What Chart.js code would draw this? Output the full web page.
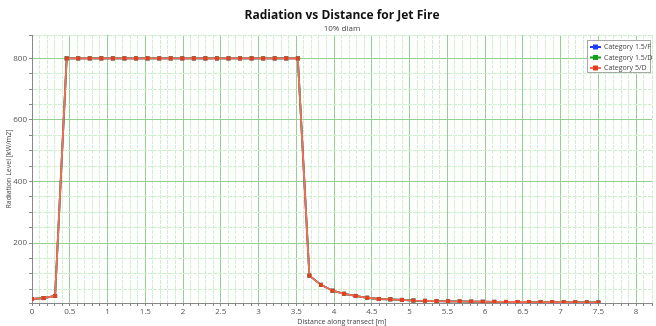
<!DOCTYPE html>
<html>
<head>
<meta charset="utf-8">
<script src="https://cdn.jsdelivr.net/npm/chart.js@4.4.1/dist/chart.umd.min.js"></script>
<style>
    html, body { margin: 0; padding: 0; background: #fff; }
    #wrap { width: 656px; height: 326px; }
</style>
</head>
<body>
<div id="wrap"><canvas id="radChart"></canvas></div>
<script>
// Radiation vs distance - jet fire, 10% diam

const distances = [0, 0.153, 0.306, 0.459, 0.612, 0.765, 0.918, 1.071, 1.224, 1.378,
    1.531, 1.684, 1.837, 1.990, 2.143, 2.296, 2.449, 2.602, 2.755, 2.908,
    3.061, 3.214, 3.367, 3.520, 3.673, 3.827, 3.980, 4.133, 4.286, 4.439,
    4.592, 4.745, 4.898, 5.051, 5.204, 5.357, 5.510, 5.663, 5.816, 5.969,
    6.122, 6.276, 6.429, 6.582, 6.735, 6.888, 7.041, 7.194, 7.347, 7.500];

const radiation = [18, 21, 28, 800, 800, 800, 800, 800, 800, 800,
    800, 800, 800, 800, 800, 800, 800, 800, 800, 800,
    800, 800, 800, 800, 94, 64, 45, 35, 28, 22,
    18, 17, 15, 13, 12, 11, 10.5, 10, 9.5, 9,
    8.8, 8.5, 8.2, 8, 7.8, 7.6, 7.4, 7.2, 7, 6.8];

const seriesNames = ['Category 1.5/F', 'Category 1.5/D', 'Category 5/D'];
const lineColors = ['#1f3dff', '#14a014', '#ff6a58'];
const markerColors = ['#1f3dff', '#14a014', '#e4401f'];

const majorGrid = '#93d193';
const minorGrid = '#cdf0cd';
const fontFamily = "'Open Sans', 'Noto Sans', sans-serif";

function isMultiple(v, step) {
    const r = v / step;
    return Math.abs(r - Math.round(r)) < 1e-6;
}

// boxed legend in the top right corner of the plot
const boxLegend = {
    id: 'boxLegend',
    afterDraw(chart) {
        const ctx = chart.ctx;
        const area = chart.chartArea;
        const w = 64, h = 33;
        const x0 = Math.min(area.right, 655) - w - 1, y0 = area.top + 5;
        ctx.save();
        ctx.fillStyle = '#ffffff';
        ctx.fillRect(x0, y0, w, h);
        ctx.strokeStyle = '#a8a8a8';
        ctx.lineWidth = 1;
        ctx.strokeRect(x0 + 0.5, y0 + 0.5, w - 1, h - 1);
        ctx.font = '7px ' + fontFamily;
        ctx.textBaseline = 'middle';
        chart.data.datasets.forEach((ds, i) => {
            const cy = y0 + 7 + i * 10.5;
            ctx.strokeStyle = lineColors[i];
            ctx.lineWidth = 2;
            ctx.beginPath();
            ctx.moveTo(x0 + 3, cy);
            ctx.lineTo(x0 + 14, cy);
            ctx.stroke();
            ctx.fillStyle = markerColors[i];
            ctx.fillRect(x0 + 6, cy - 2.5, 5, 5);
            ctx.fillStyle = '#444';
            ctx.fillText(ds.label, x0 + 17, cy);
        });
        ctx.restore();
    }
};

const datasets = seriesNames.map((name, i) => ({
    label: name,
    data: distances.map((d, k) => ({ x: d, y: radiation[k] })),
    borderColor: lineColors[i],
    backgroundColor: markerColors[i],
    pointBackgroundColor: markerColors[i],
    pointBorderColor: markerColors[i],
    pointStyle: 'rect',
    pointRadius: 2.8,
    pointBorderWidth: 0,
    borderWidth: 1.8,
    tension: 0,
    order: 3 - i
}));

new Chart(document.getElementById('radChart').getContext('2d'), {
    type: 'line',
    data: { datasets: datasets },
    plugins: [boxLegend],
    options: {
        responsive: true,
        maintainAspectRatio: false,
        animation: false,
        layout: { padding: { top: 0, right: -7, left: 0, bottom: 0 } },
        plugins: {
            title: {
                display: true,
                fullSize: false,
                text: 'Radiation vs Distance for Jet Fire',
                color: '#111',
                font: { family: fontFamily, size: 12, weight: 'bold' },
                padding: { top: 8, bottom: 0 }
            },
            subtitle: {
                display: true,
                fullSize: false,
                text: '10% diam',
                color: '#444',
                font: { family: fontFamily, size: 8 },
                padding: { top: 2, bottom: 1 }
            },
            legend: { display: false },
            tooltip: { enabled: false }
        },
        scales: {
            x: {
                type: 'linear',
                min: 0,
                max: 8.21,
                afterFit(scale) {
                    scale.height = 23;
                    scale.paddingLeft = 0;
                    scale.paddingRight = 0;
                },
                ticks: {
                    stepSize: 0.1,
                    autoSkip: false,
                    maxRotation: 0,
                    color: '#555',
                    padding: 1,
                    font: { family: fontFamily, size: 8 },
                    callback(v) { return isMultiple(v, 0.5) ? String(Math.round(v * 10) / 10) : ''; }
                },
                grid: {
                    color: ctx => (ctx.tick && isMultiple(ctx.tick.value, 0.5)) ? majorGrid : minorGrid,
                    lineWidth: 1,
                    tickLength: 3,
                    tickColor: '#888'
                },
                border: {
                    color: '#888',
                    dash: ctx => (ctx.tick && isMultiple(ctx.tick.value, 0.5)) ? [] : [4, 1]
                },
                title: {
                    display: true,
                    text: 'Distance along transect [m]',
                    color: '#444',
                    font: { family: fontFamily, size: 7 },
                    padding: { top: 0, bottom: 0 }
                }
            },
            y: {
                type: 'linear',
                min: 5,
                max: 876,
                afterFit(scale) { scale.width = 32; },
                ticks: {
                    stepSize: 50,
                    autoSkip: false,
                    color: '#555',
                    padding: 2,
                    font: { family: fontFamily, size: 8 },
                    callback(v) { return isMultiple(v, 200) && v > 0 ? String(v) : ''; }
                },
                grid: {
                    color: ctx => (ctx.tick && isMultiple(ctx.tick.value, 200)) ? majorGrid : minorGrid,
                    lineWidth: 1,
                    tickLength: 3,
                    tickColor: '#888'
                },
                border: {
                    color: '#888',
                    dash: ctx => (ctx.tick && isMultiple(ctx.tick.value, 200)) ? [] : [4, 1]
                },
                title: {
                    display: true,
                    text: 'Radiation Level [kW/m2]',
                    color: '#444',
                    font: { family: fontFamily, size: 7 },
                    padding: { top: 5, bottom: 0 }
                }
            }
        }
    }
});
</script>
</body>
</html>
